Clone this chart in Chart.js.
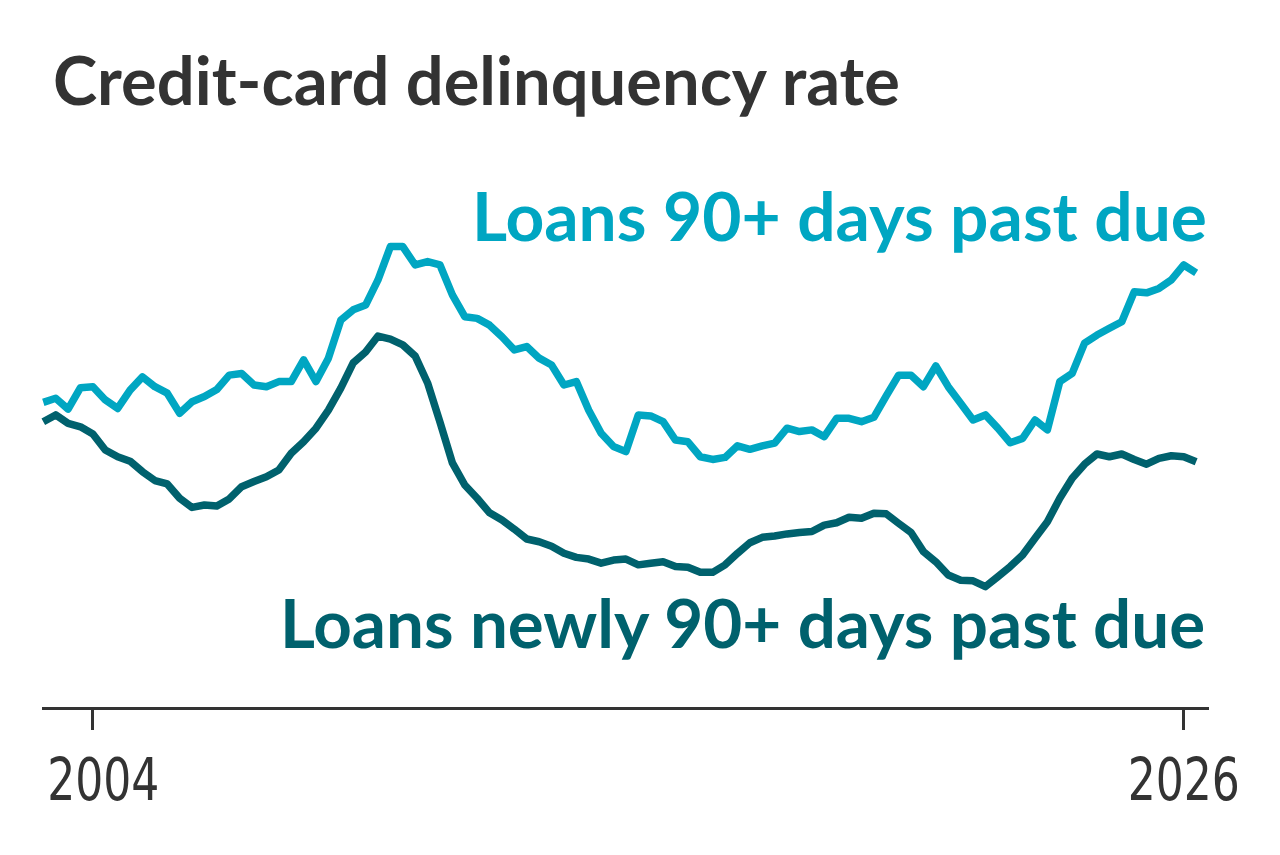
<!DOCTYPE html>
<html><head><meta charset="utf-8">
<script src="https://cdn.jsdelivr.net/npm/chart.js@4.4.1/dist/chart.umd.min.js"></script>
<style>
html,body{margin:0;padding:0;background:#fff;width:1280px;height:855px;overflow:hidden}
#wrap{position:relative;width:1280px;height:855px}
#c{position:absolute;left:0;top:0}
.t{position:absolute;white-space:nowrap;margin:0;padding:0}
</style></head><body>
<div id="wrap">
<canvas id="c" width="1280" height="855"></canvas>
<div class="t" id="title">Credit-card delinquency rate</div>
<div class="t" id="lab1">Loans 90+ days past due</div>
<div class="t" id="lab2">Loans newly 90+ days past due</div>
</div>
<script>
// Quarterly series, first quarter = 2003 Q1 (values in %)
const startYear = 2003;
const tickYears = [2004, 2026];
const past90 = [8.99, 9.11, 8.79, 9.42, 9.45, 9.06, 8.81, 9.35, 9.74, 9.45,
 9.26, 8.67, 9.01, 9.16, 9.37, 9.79, 9.84, 9.50, 9.45, 9.60,
 9.60, 10.24, 9.60, 10.29, 11.41, 11.71, 11.85, 12.59, 13.57, 13.57,
 13.03, 13.13, 13.03, 12.15, 11.51, 11.46, 11.26, 10.92, 10.53, 10.63,
 10.29, 10.09, 9.50, 9.60, 8.76, 8.08, 7.69, 7.54, 8.62, 8.59,
 8.42, 7.88, 7.83, 7.39, 7.31, 7.37, 7.71, 7.61, 7.71, 7.79,
 8.23, 8.13, 8.18, 7.98, 8.52, 8.52, 8.42, 8.55, 9.18, 9.79,
 9.79, 9.45, 10.06, 9.45, 8.96, 8.47, 8.62, 8.23, 7.80, 7.93,
 8.47, 8.18, 9.60, 9.84, 10.73, 10.97, 11.17, 11.36, 12.24, 12.21,
 12.34, 12.59, 13.03, 12.80];
const newly90 = [8.42, 8.62, 8.37, 8.27, 8.06, 7.59, 7.39, 7.26, 6.95, 6.69,
 6.59, 6.17, 5.90, 5.97, 5.94, 6.15, 6.51, 6.66, 6.80, 7.00,
 7.49, 7.83, 8.23, 8.76, 9.41, 10.15, 10.47, 10.94, 10.85, 10.68,
 10.35, 9.56, 8.41, 7.21, 6.56, 6.17, 5.74, 5.53, 5.26, 4.97,
 4.89, 4.76, 4.55, 4.43, 4.38, 4.26, 4.35, 4.38, 4.21, 4.26,
 4.30, 4.16, 4.14, 3.99, 3.99, 4.21, 4.55, 4.86, 5.02, 5.06,
 5.12, 5.16, 5.19, 5.38, 5.45, 5.61, 5.58, 5.73, 5.71, 5.43,
 5.16, 4.60, 4.30, 3.91, 3.76, 3.74, 3.57, 3.86, 4.16, 4.50,
 4.99, 5.48, 6.17, 6.76, 7.17, 7.47, 7.39, 7.47, 7.31, 7.17,
 7.34, 7.42, 7.39, 7.24];

const LIGHT = '#00a6c2';
const DARK = '#00616d';
const INK = '#333333';

const toPoints = arr => arr.map((v, i) => ({ x: startYear + i / 4, y: v }));

// Narrow year labels under the x-axis tick marks, positioned through the x scale
const narrowTickLabels = {
  id: 'narrowTickLabels',
  afterDraw(chart) {
    const sc = chart.scales.x, ctx = chart.ctx;
    const squeeze = 0.83, size = 59;
    const baseline = sc.bottom + 70;
    ctx.save();
    ctx.font = `${size}px 'DejaVu Sans Condensed', 'DejaVu Sans', sans-serif`;
    ctx.fillStyle = INK;
    ctx.textAlign = 'center';
    ctx.textBaseline = 'alphabetic';
    sc.ticks.forEach(t => {
      const label = String(t.value);
      const w = ctx.measureText(label).width * squeeze;
      let cx = sc.getPixelForValue(t.value);
      cx = Math.max(cx, sc.left + 4 + w / 2);
      ctx.save();
      ctx.translate(cx, baseline);
      ctx.scale(squeeze, 1);
      ctx.fillText(label, 0, 0);
      ctx.restore();
    });
    ctx.restore();
  }
};

new Chart(document.getElementById('c'), {
  type: 'line',
  data: {
    datasets: [
      { data: toPoints(past90), borderColor: LIGHT },
      { data: toPoints(newly90), borderColor: DARK }
    ]
  },
  plugins: [narrowTickLabels],
  options: {
    responsive: false,
    animation: false,
    devicePixelRatio: 1,
    layout: { padding: { left: 43.3, right: 72, top: 232, bottom: 125 } },
    plugins: { legend: { display: false }, tooltip: { enabled: false }, title: { display: false } },
    elements: {
      point: { radius: 0, hoverRadius: 0 },
      line: { borderWidth: 7.5, tension: 0, borderCapStyle: 'butt', borderJoinStyle: 'round', fill: false }
    },
    datasets: { line: { clip: false } },
    scales: {
      x: {
        type: 'linear',
        min: 2003,
        max: 2026.489,
        afterBuildTicks: s => { s.ticks = tickYears.map(v => ({ value: v })); },
        ticks: { display: false },
        grid: { drawOnChartArea: false, drawTicks: true, tickLength: 22, tickWidth: 3, tickColor: INK },
        border: { display: true, color: INK, width: 3 }
      },
      y: { display: false, min: 0, max: 14 }
    }
  }
});

function place(id, family, weight, color, inkLeft, inkRight, baseline) {
  const el = document.getElementById(id);
  const text = el.textContent;
  const ctx = document.createElement('canvas').getContext('2d');
  ctx.font = `${weight} 100px ${family}`;
  let m = ctx.measureText(text);
  const ink = m.actualBoundingBoxLeft + m.actualBoundingBoxRight;
  const fs = 100 * (inkRight - inkLeft) / ink;
  ctx.font = `${weight} ${fs}px ${family}`;
  m = ctx.measureText(text);
  const asc = m.fontBoundingBoxAscent, desc = m.fontBoundingBoxDescent;
  el.style.fontFamily = family;
  el.style.fontWeight = weight;
  el.style.fontSize = fs + 'px';
  el.style.lineHeight = (asc + desc) + 'px';
  el.style.color = color;
  el.style.left = (inkLeft + m.actualBoundingBoxLeft) + 'px';
  el.style.top = (baseline - asc) + 'px';
}
place('title', 'Lato', 700, INK, 55, 900, 105);
place('lab1', 'Lato', 700, LIGHT, 477, 1205, 241);
place('lab2', 'Lato', 700, DARK, 285, 1205, 648);
</script>
</body></html>
